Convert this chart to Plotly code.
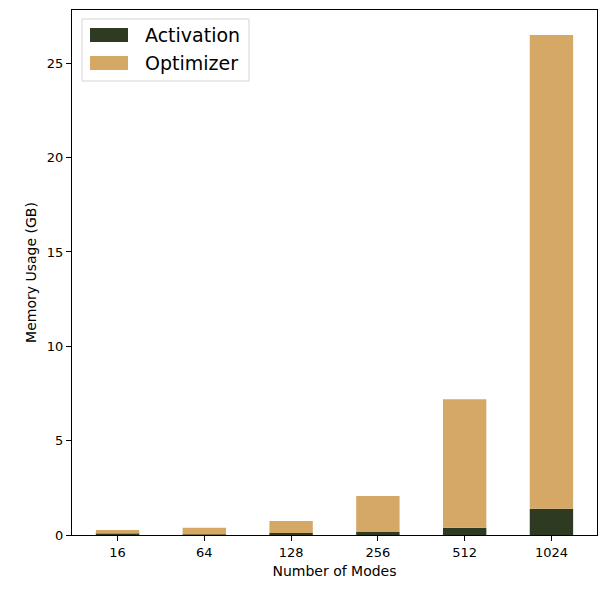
import plotly.graph_objects as go

modes = ["16", "64", "128", "256", "512", "1024"]
activation = [0.06, 0.02, 0.10, 0.16, 0.39, 1.39]
total = [0.27, 0.39, 0.74, 2.07, 7.20, 26.50]
optimizer = [t - a for t, a in zip(total, activation)]

dark = "#2e3b22"
tan = "#d6a865"

fig = go.Figure()
fig.add_trace(go.Bar(x=modes, y=activation, name="Activation", marker=dict(color=dark, line=dict(width=0)), width=0.5, showlegend=False))
fig.add_trace(go.Bar(x=modes, y=optimizer, base=activation, name="Optimizer", marker=dict(color=tan, line=dict(width=0)), width=0.5, showlegend=False))

W, H = 604, 589
L, R, T, B = 72, 7, 10, 54
pw, ph = W - L - R, H - T - B

def px(x):
    return (x - L) / pw

def py(y):
    return 1 - (y - T) / ph

shapes = [
    dict(type="rect", xref="paper", yref="paper", x0=px(82), x1=px(249), y0=py(81), y1=py(19),
         line=dict(color="#d5d5d5", width=1), fillcolor="rgba(255,255,255,0.8)", layer="above"),
]
annotations = []
for i, (name, col) in enumerate([("Activation", dark), ("Optimizer", tan)]):
    yc = 35 + i * 28
    shapes.append(dict(type="rect", xref="paper", yref="paper", x0=px(90), x1=px(128),
                       y0=py(yc + 7), y1=py(yc - 7), line=dict(width=0), fillcolor=col, layer="above"))
    annotations.append(dict(xref="paper", yref="paper", x=px(143), y=py(yc), text=name, showarrow=False,
                            xanchor="left", yanchor="middle", font=dict(size=19, color="black")))

fig.update_layout(
    barmode="overlay",
    width=W, height=H,
    margin=dict(l=L, r=R, t=T, b=B),
    plot_bgcolor="white", paper_bgcolor="white",
    font=dict(family="DejaVu Sans", size=13, color="black"),
    showlegend=False,
    shapes=shapes, annotations=annotations,
    xaxis=dict(type="category", range=[-0.525, 5.525], showline=True, linecolor="black", linewidth=1,
               mirror=True, ticks="outside", ticklen=5, tickcolor="black", automargin=False,
               tickfont=dict(size=13),
               title=dict(text="Number of Modes", font=dict(size=14), standoff=7)),
    yaxis=dict(range=[0, 27.825], showline=True, linecolor="black", linewidth=1, mirror=True,
               ticks="outside", ticklen=5, tickcolor="black", tickvals=[0, 5, 10, 15, 20, 25],
               showgrid=False, zeroline=False, automargin=False, tickfont=dict(size=13),
               title=dict(text="Memory Usage (GB)", font=dict(size=14), standoff=6)),
)
fig.write_html("out.html", config={"displayModeBar": False},
               post_script="document.body.style.margin='0';document.body.style.padding='0';")
